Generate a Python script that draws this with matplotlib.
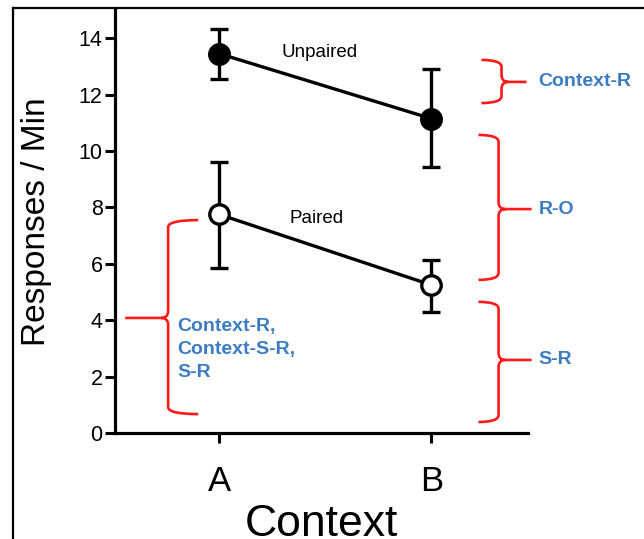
import numpy as np
import matplotlib.pyplot as plt
from matplotlib.path import Path
from matplotlib.patches import PathPatch
from matplotlib.lines import Line2D

plt.rcParams['font.family'] = ['Liberation Sans', 'DejaVu Sans']

# данные: среднее и границы ошибок по контекстам
contexts = ['A', 'B']
unpaired_mean = [13.45, 11.15]
unpaired_lo = [12.55, 9.43]
unpaired_hi = [14.32, 12.92]
paired_mean = [7.75, 5.25]
paired_lo = [5.85, 4.28]
paired_hi = [9.6, 6.15]

RED = '#ff1a1a'
BLUE = '#3b7cc2'

W, H, DPI = 644, 539, 100
fig = plt.figure(figsize=(W / DPI, H / DPI), dpi=DPI)
ax = fig.add_axes([115 / W, 106 / H, (528 - 115) / W, (529 - 106) / H])

xpos = np.arange(1, len(contexts) + 1)
XLIM = (0.507, 2.457)
YLIM = (0, 15.0)


def yerr(mean, lo, hi):
    mean = np.array(mean)
    return [mean - np.array(lo), np.array(hi) - mean]


ax.errorbar(xpos, unpaired_mean, yerr=yerr(unpaired_mean, unpaired_lo, unpaired_hi),
            color='black', lw=2.4, elinewidth=2.4, capsize=6.5, capthick=2.4,
            marker='o', ms=15.5, mfc='black', mec='black', zorder=3)
ax.errorbar(xpos, paired_mean, yerr=yerr(paired_mean, paired_lo, paired_hi),
            color='black', lw=2.4, elinewidth=2.4, capsize=6.5, capthick=2.4,
            marker='o', ms=14, mfc='white', mec='black', mew=2.4, zorder=3)

ax.text(1.474, 13.5, 'Unpaired', fontsize=13.5, ha='center', va='center')
ax.text(1.46, 7.6, 'Paired', fontsize=13.5, ha='center', va='center')

ax.set_xlim(*XLIM)
ax.set_ylim(*YLIM)
ax.set_xticks(xpos)
ax.set_xticklabels(contexts, fontsize=25)
ax.set_yticks(np.arange(0, 15, 2))
ax.tick_params(axis='y', labelsize=15.5, width=2.2, length=7, pad=2)
ax.tick_params(axis='x', width=2.2, length=7, pad=16)
ax.set_xlabel('Context', fontsize=32, labelpad=4)
ax.set_ylabel('Responses / Min', fontsize=24, labelpad=19)
for side in ['top', 'right']:
    ax.spines[side].set_visible(False)
for side in ['left', 'bottom']:
    ax.spines[side].set_linewidth(2.3)

# масштаб: сколько единиц данных в одном пикселе
sx = (XLIM[1] - XLIM[0]) / (528 - 115)
sy = (YLIM[1] - YLIM[0]) / (529 - 106)


def brace(xv, y0, y1, ym, arm_x, tip_x, r=7):
    """Фигурная скобка: вертикаль xv, концы к arm_x, острие к tip_x."""
    d = np.sign(tip_x - xv)
    rx, ry = r * sx, r * sy
    verts = [
        (arm_x, y1), (xv, y1), (xv, y1 - ry),
        (xv, ym + ry),
        (xv, ym), (xv + d * rx, ym),
        (tip_x, ym),
        (xv + d * rx, ym), (xv, ym), (xv, ym - ry),
        (xv, y0 + ry),
        (xv, y0), (arm_x, y0),
    ]
    codes = [Path.MOVETO, Path.CURVE3, Path.CURVE3,
             Path.LINETO,
             Path.CURVE3, Path.CURVE3,
             Path.LINETO,
             Path.MOVETO, Path.CURVE3, Path.CURVE3,
             Path.LINETO,
             Path.CURVE3, Path.CURVE3]
    ax.add_patch(PathPatch(Path(verts, codes), fill=False, ec=RED, lw=1.9,
                           clip_on=False, zorder=2))


brace(2.332, 11.70, 13.23, 12.45, 2.237, 2.450)
brace(2.318, 5.43, 10.57, 7.94, 2.223, 2.474)
brace(2.318, 0.39, 4.65, 2.59, 2.223, 2.474)
brace(0.758, 0.67, 7.55, 4.08, 0.900, 0.555)

lab = dict(color=BLUE, fontsize=14, fontweight='bold', clip_on=False)
ax.text(2.507, 12.45, 'Context-R', va='center', ha='left', **lab)
ax.text(2.507, 7.94, 'R-O', va='center', ha='left', **lab)
ax.text(2.507, 2.59, 'S-R', va='center', ha='left', **lab)
ax.text(0.801, 4.07, 'Context-R,\nContext-S-R,\nS-R', va='top', ha='left',
        linespacing=1.45, **lab)

# рамка слева и сверху
fig.add_artist(Line2D([13 / W, 13 / W], [0, 1 - 8 / H], color='black', lw=1.6))
fig.add_artist(Line2D([13 / W, 1], [1 - 8 / H, 1 - 8 / H], color='black', lw=1.6))

fig.savefig('out.png', dpi=DPI)
